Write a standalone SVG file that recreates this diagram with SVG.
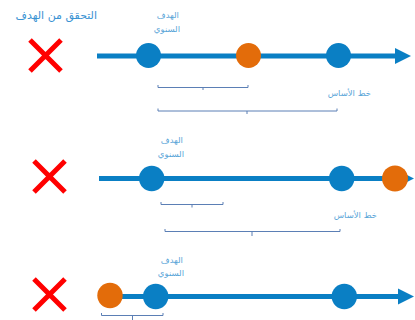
<svg xmlns="http://www.w3.org/2000/svg" width="415" height="320" viewBox="0 0 415 320">
<style>
.axis{stroke:#0a7fc4;stroke-width:5;fill:none}
.head{fill:#0a7fc4}
.blue{fill:#0a7fc4}
.orange{fill:#e36c0a}
.x{stroke:#ff0000;stroke-width:5;fill:none}
.br{stroke:#5b7fb5;stroke-width:1;fill:none}
.lbl{font-family:"DejaVu Sans",sans-serif;font-size:8.5px;fill:#5aa5d8}
.title{font-family:"DejaVu Sans",sans-serif;font-size:11px;fill:#3a93d3}
</style>
<rect width="415" height="320" fill="#ffffff"/>
<text class="title" x="97" y="19" text-anchor="end">التحقق من الهدف</text>

<g id="connectors">
<line class="axis" x1="97" y1="56" x2="398" y2="56"/>
<polygon class="head" points="395,48 411,56 395,64"/>
<line class="axis" x1="99" y1="178.5" x2="400" y2="178.5"/>
<polygon class="head" points="398,170.5 414,178.5 398,186.5"/>
<line class="axis" x1="110" y1="296.5" x2="400" y2="296.5"/>
<polygon class="head" points="398,288.5 414,296.5 398,304.5"/>
</g>

<g id="row1">
<g id="x1"><path class="x" d="M30,40 L61,71 M61,40 L30,71"/></g>
<circle id="r1-target" class="blue" cx="148.5" cy="55.5" r="12.5"/>
<circle id="r1-actual" class="orange" cx="248.5" cy="55.5" r="12.5"/>
<circle id="r1-base" class="blue" cx="338.5" cy="55.5" r="12.5"/>
<text class="lbl" x="179" y="18" text-anchor="end">الهدف</text>
<text class="lbl" x="180" y="32" text-anchor="end">السنوي</text>
<text class="lbl" x="371" y="96" text-anchor="end">خط الأساس</text>
<path class="br" d="M158,85 V87.5 H248 V85 M203,87.5 V90"/>
<path class="br" d="M158,108.5 V111 H337 V108.5 M247,111 V114"/>
</g>

<g id="row2">
<g id="x2"><path class="x" d="M34,161 L65,192 M65,161 L34,192"/></g>
<circle id="r2-target" class="blue" cx="151.7" cy="178.5" r="12.7"/>
<circle id="r2-base" class="blue" cx="341.7" cy="178.5" r="12.7"/>
<circle id="r2-actual" class="orange" cx="395" cy="178.5" r="13"/>
<text class="lbl" x="183" y="143" text-anchor="end">الهدف</text>
<text class="lbl" x="184" y="157" text-anchor="end">السنوي</text>
<text class="lbl" x="377" y="218" text-anchor="end">خط الأساس</text>
<path class="br" d="M161,202 V204.5 H223 V202 M192,204.5 V207.5"/>
<path class="br" d="M165,229 V231.5 H340 V229 M252,231.5 V236"/>
</g>

<g id="row3">
<g id="x3"><path class="x" d="M34,279 L65,310 M65,279 L34,310"/></g>
<circle id="r3-actual" class="orange" cx="110" cy="295.5" r="12.7"/>
<circle id="r3-target" class="blue" cx="155.7" cy="296.5" r="12.7"/>
<circle id="r3-base" class="blue" cx="344.3" cy="296.5" r="12.7"/>
<text class="lbl" x="183" y="263" text-anchor="end">الهدف</text>
<text class="lbl" x="184" y="276" text-anchor="end">السنوي</text>
<path class="br" d="M101.5,313 V315.5 H163 V313 M132.5,315.5 V320"/>
</g>
</svg>
